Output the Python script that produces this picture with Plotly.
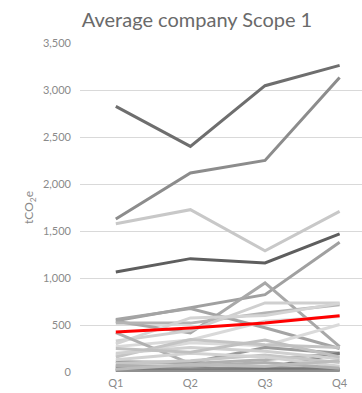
import plotly.graph_objects as go

quarters = ["Q1", "Q2", "Q3", "Q4"]

average_scope1 = [425, 468, 521, 599]

company_values = [
    [2826, 2400, 3046, 3262],
    [1628, 2117, 2251, 3134],
    [1578, 1727, 1290, 1709],
    [1064, 1206, 1160, 1470],
    [545, 680, 823, 1380],
    [540, 415, 947, 270],
    [560, 675, 470, 250],
    [520, 520, 628, 716],
    [330, 440, 735, 735],
    [300, 575, 600, 730],
    [270, 340, 540, 590],
    [180, 310, 280, 505],
    [420, 90, 130, 200],
    [160, 345, 290, 260],
    [110, 100, 260, 200],
    [60, 40, 40, 200],
    [200, 260, 220, 140],
    [90, 120, 180, 100],
    [40, 30, 50, 30],
    [20, 15, 25, 20],
    [10, 10, 10, 10],
    [130, 200, 160, 60],
    [250, 210, 340, 160],
    [70, 60, 100, 40],
    [30, 80, 60, 120],
]

company_colors = [
    "#6e6e6e", "#8c8c8c", "#c8c8c8", "#5e5e5e", "#a0a0a0", "#a8a8a8",
    "#a4a4a4", "#b4b4b4", "#cfcfcf", "#d4d4d4", "#d9d9d9", "#dadada",
    "#b0b0b0", "#c4c4c4", "#9a9a9a", "#7a7a7a", "#d0d0d0", "#c6c6c6",
    "#8a8a8a", "#6a6a6a", "#909090", "#d2d2d2", "#c0c0c0", "#b0b0b0",
    "#bcbcbc",
]

fig = go.Figure()
for vals, col in zip(company_values, company_colors):
    fig.add_trace(go.Scatter(x=quarters, y=vals, mode="lines",
                             line=dict(color=col, width=3), showlegend=False,
                             hoverinfo="skip"))
fig.add_trace(go.Scatter(x=quarters, y=average_scope1, mode="lines",
                         line=dict(color="#ff0000", width=3), showlegend=False,
                         name="Average"))

font_family = "Lato, 'Open Sans', sans-serif"
fig.update_layout(
    width=362, height=393,
    margin=dict(l=80, r=0, t=43, b=21),
    paper_bgcolor="white", plot_bgcolor="white",
    font=dict(family=font_family, color="#8a8a8a", size=11),
    title=dict(text="Average company Scope 1", x=197 / 362, xref="container",
               xanchor="center", y=1 - 20 / 393, yref="container",
               yanchor="middle", font=dict(size=20, color="#6a6a6a")),
)
fig.update_xaxes(type="category", range=[-0.48, 3.30], showgrid=False,
                 showline=False, zeroline=False, ticks="",
                 ticklabelstandoff=3,
                 tickfont=dict(size=11, color="#8a8a8a"))
fig.update_yaxes(range=[0, 3500], dtick=500, tickformat=",d",
                 showgrid=True, gridcolor="#d9d9d9", gridwidth=1,
                 zeroline=False, showline=False, ticks="",
                 ticklabelstandoff=8,
                 tickfont=dict(size=11, color="#8a8a8a"),
                 title=dict(text="tCO<sub>2</sub>e", standoff=6,
                            font=dict(size=12, color="#8a8a8a")))

fig.write_html("out.html")
